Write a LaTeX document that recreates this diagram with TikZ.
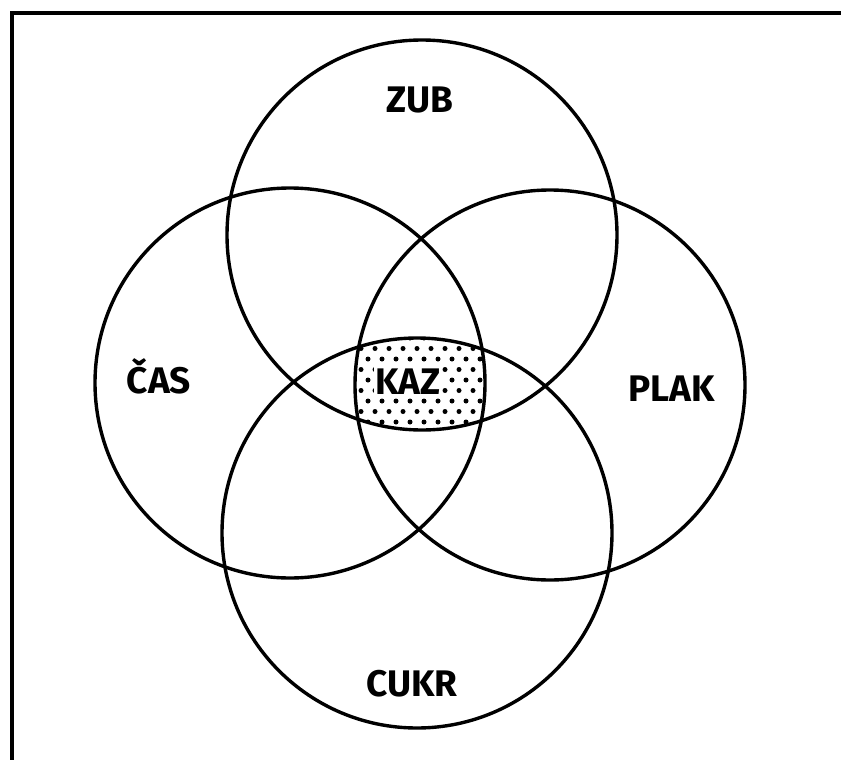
\documentclass[tikz,border=0pt]{standalone}
\usepackage{fontspec}
\setmainfont{Fira Sans}
\begin{document}
\begin{tikzpicture}[x=1pt,y=-1pt,
  venn/.style={line width=3.4pt},
  frameline/.style={line width=3.4pt},
  dotfill/.style={fill=black},
  lbl/.style={font=\fontsize{37}{40}\selectfont\bfseries, inner sep=0pt, anchor=base}]
\useasboundingbox (0,0) rectangle (841,760);
\fill[white] (0,0) rectangle (841,760);
\coordinate (zub) at (422,235);
\coordinate (cas) at (290,383);
\coordinate (plak) at (550,385);
\coordinate (cukr) at (417,533);
\coordinate (fr) at (841,13);
\coordinate (fc) at (12,13);
\coordinate (fb) at (12,760);
% shaded common region
\begin{scope}
  \clip (zub) circle[radius=195pt];
  \clip (cas) circle[radius=195pt];
  \clip (plak) circle[radius=195pt];
  \clip (cukr) circle[radius=195pt];
  \foreach \i in {0,...,9} {
    \pgfmathtruncatemacro\off{mod(\i,2)*7}
    \foreach \j in {0,...,11} {
      \fill[dotfill] (340+\off+\j*14, 338+\i*10.5) circle[radius=2.5pt];
    }
  }
\end{scope}
% circles
\draw[venn] (zub) circle[radius=195pt];
\draw[venn] (cas) circle[radius=195pt];
\draw[venn] (plak) circle[radius=195pt];
\draw[venn] (cukr) circle[radius=195pt];
% frame
\draw[frameline] (fr) -- (fc) -- (fb);
% labels
\node[lbl] (lzub) at (420,113) {ZUB};
\node[lbl] (lcas) at (159,393) {ČAS};
\node[lbl, fill=white, inner sep=1.5pt] (lkaz) at (408,394) {KAZ};
\node[lbl] (lplak) at (672,401) {PLAK};
\node[lbl] (lcukr) at (412,696) {CUKR};
\end{tikzpicture}
\end{document}
